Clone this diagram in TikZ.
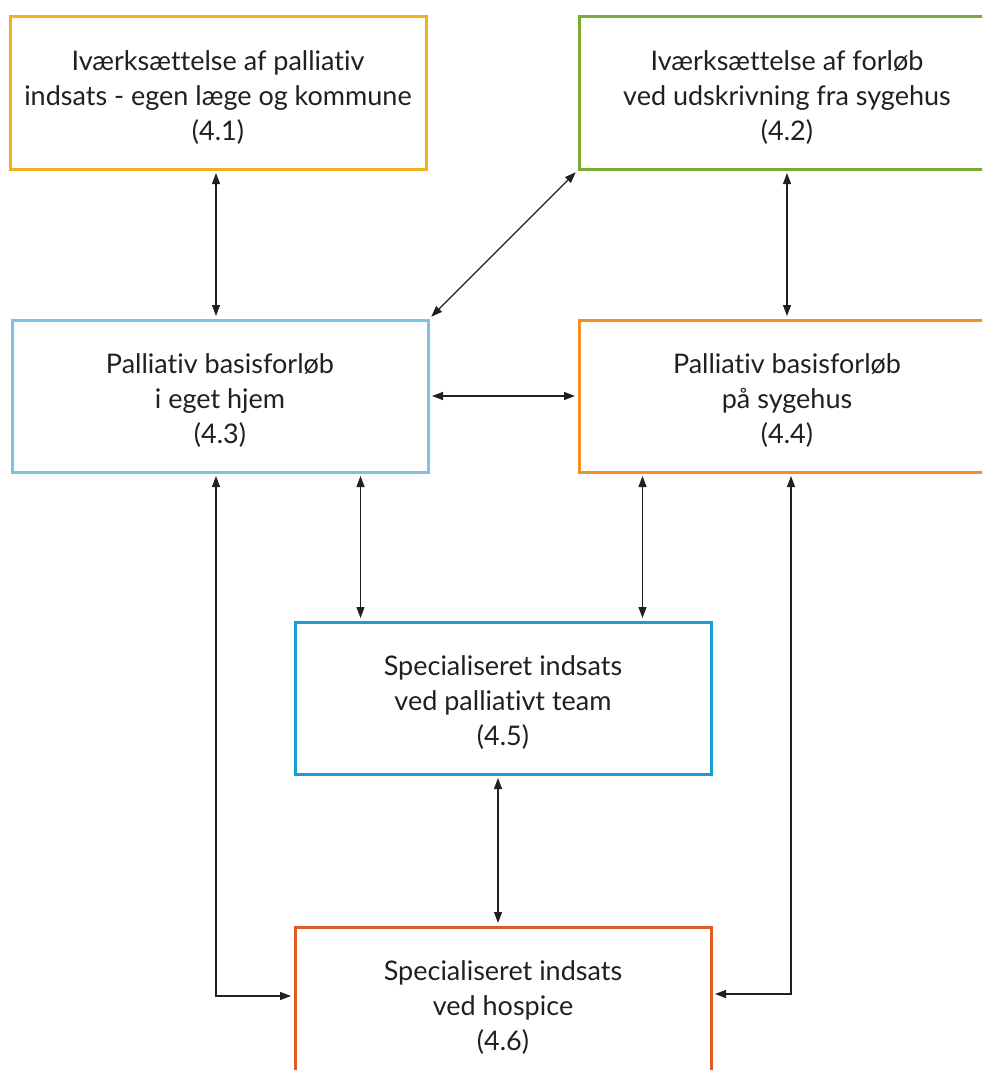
\documentclass[tikz,border=0pt]{standalone}
\usepackage{fontspec}
\setmainfont{Lato}[Ligatures={NoCommon,NoRequired,NoContextual,NoDiscretionary}]
\usetikzlibrary{arrows.meta}
\definecolor{cyel}{HTML}{F0B21B}
\definecolor{cgrn}{HTML}{7AAB33}
\definecolor{clbl}{HTML}{7DC0E8}
\definecolor{corg}{HTML}{F39022}
\definecolor{cblu}{HTML}{1A9AD6}
\definecolor{cred}{HTML}{E05A24}
\definecolor{ctxt}{HTML}{231F20}
\begin{document}
\begin{tikzpicture}[x=1pt,y=-1pt,
  box/.style={draw,line width=3pt,rectangle,minimum width=416pt,minimum height=152pt,inner sep=0pt},
  txt/.style={align=center,text=ctxt,font=\fontsize{27}{35}\selectfont,yshift=-5pt},
  arr/.style={line width=1.2pt,draw=ctxt,{Triangle[length=11pt,width=8pt]}-{Triangle[length=11pt,width=8pt]},shorten <=2.5pt,shorten >=2.5pt}]
\useasboundingbox (0,0) rectangle (982,1070);
\clip (0,0) rectangle (982,1070);
\node[box,draw=cyel,label={[txt]center:{Iværksættelse af palliativ\\indsats - egen læge og kommune\\(4.1)}}] (b41) at (218,93) {};
\node[box,draw=cgrn,label={[txt]center:{Iværksættelse af forløb\\ved udskrivning fra sygehus\\(4.2)}}] (b42) at (787,93) {};
\node[box,draw=clbl,label={[txt]center:{Palliativ basisforløb\\i eget hjem\\(4.3)}}] (b43) at (220,396) {};
\node[box,draw=corg,label={[txt]center:{Palliativ basisforløb\\på sygehus\\(4.4)}}] (b44) at (787,396) {};
\node[box,draw=cblu,label={[txt]center:{Specialiseret indsats\\ved palliativt team\\(4.5)}}] (b45) at (503,698) {};
\node[box,draw=cred,label={[txt]center:{Specialiseret indsats\\ved hospice\\(4.6)}}] (b46) at (503,1003) {};
% connectors
\draw[arr] ([xshift=-2pt]b43.north -| b41.south) -- ([xshift=-2pt]b41.south);
\draw[arr] (b43.north east) -- (b42.south west);
\draw[arr] (b44.north) -- (b42.south);
\draw[arr] (b43.east) -- (b44.west);
\coordinate (t1) at ([xshift=67pt]b45.north west);
\coordinate (t2) at ([xshift=-70pt]b45.north east);
\draw[arr] (b43.south -| t1) -- (t1);
\draw[arr] (b44.south -| t2) -- (t2);
\coordinate (t3) at ([xshift=-5pt]b45.south);
\draw[arr] (t3) -- (t3 |- b46.north);
\coordinate (l1) at ([xshift=-4pt]b43.south);
\coordinate (l2) at ([yshift=7pt]b46.west);
\draw[arr] (l1) -- (l1 |- l2) -- (l2);
\coordinate (r1) at ([xshift=4pt]b44.south);
\coordinate (r2) at ([yshift=9pt]b46.east);
\draw[arr] (r1) -- (r1 |- r2) -- (r2);
\end{tikzpicture}
\end{document}
